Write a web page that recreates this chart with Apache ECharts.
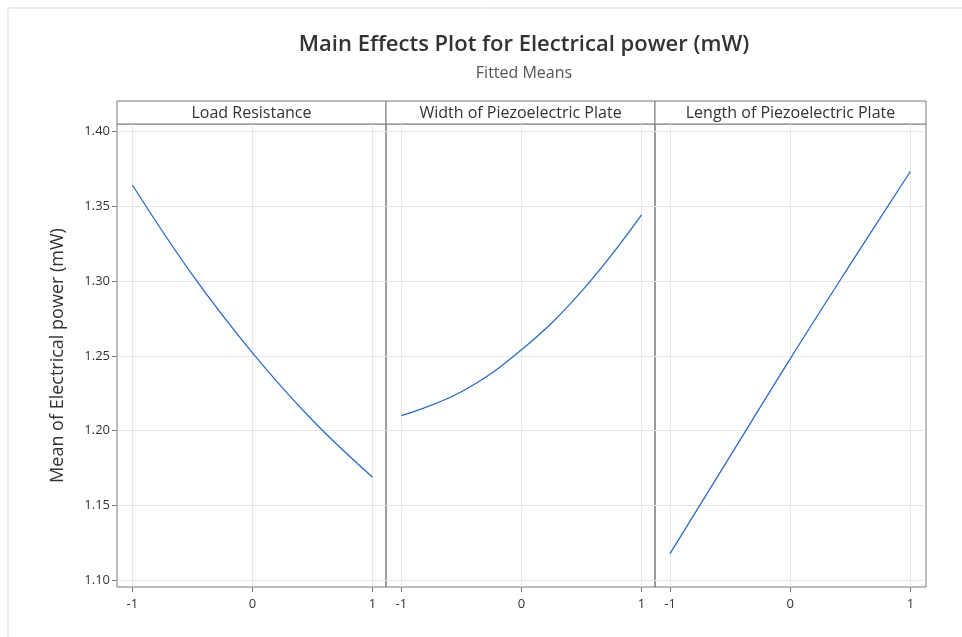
<!DOCTYPE html>
<html>
<head>
<meta charset="utf-8">
<script src="https://cdn.jsdelivr.net/npm/echarts@6/dist/echarts.min.js"></script>
<style>
  html, body { margin: 0; padding: 0; background: #fff; }
  #mainEffects { width: 962px; height: 637px; }
</style>
</head>
<body>
<div id="mainEffects"></div>
<script>
var levels = [-1, -0.5, 0, 0.5, 1];
var panelNames = ['Load Resistance', 'Width of Piezoelectric Plate', 'Length of Piezoelectric Plate'];
var loadResistance = [1.364, 1.304, 1.252, 1.207, 1.169];
var plateWidth = [1.210, 1.226, 1.254, 1.293, 1.344];
var plateLength = [1.118, 1.183, 1.248, 1.311, 1.373];
var xTicks = [-1, 0, 1];
var yTicks = [1.10, 1.15, 1.20, 1.25, 1.30, 1.35, 1.40];

var mainEffects = echarts.init(document.getElementById('mainEffects'));

var fontFamily = '"Open Sans", "Noto Sans", sans-serif';
var panelValues = [loadResistance, plateWidth, plateLength];
var panelLeft = [117, 386, 655];
var panelWidth = [269, 269, 271];
var xRange = [[-1.128, 1.112], [-1.128, 1.112], [-1.125, 1.13]];

var grids = [], xAxes = [], yAxes = [], series = [], headers = [];

panelValues.forEach(function (vals, i) {
  grids.push({
    left: panelLeft[i], top: 124, width: panelWidth[i], height: 463,
    show: true, borderColor: '#7a7a7a', borderWidth: 1, backgroundColor: 'transparent'
  });
  xAxes.push({
    type: 'value', gridIndex: i, min: xRange[i][0], max: xRange[i][1],
    axisLine: { show: false, onZero: false },
    axisTick: { show: true, length: 5, customValues: xTicks, lineStyle: { color: '#7a7a7a' } },
    axisLabel: { customValues: xTicks, color: '#333', fontSize: 13, fontFamily: fontFamily, margin: 11 },
    splitLine: { show: true, lineStyle: { color: '#e6e6e6', width: 1 } }
  });
  yAxes.push({
    type: 'value', gridIndex: i, min: 1.0957, max: 1.4047,
    axisLine: { show: false, onZero: false },
    axisTick: { show: i === 0, length: 5, customValues: yTicks, lineStyle: { color: '#7a7a7a' } },
    axisLabel: {
      show: i === 0, customValues: yTicks, color: '#333', fontSize: 13, fontFamily: fontFamily, margin: 7,
      formatter: function (v) { return v.toFixed(2); }
    },
    splitLine: { show: true, lineStyle: { color: '#e6e6e6', width: 1 } },
    name: i === 0 ? 'Mean of Electrical power (mW)' : '',
    nameLocation: 'middle', nameGap: 50, nameRotate: 90,
    nameTextStyle: { color: '#333', fontSize: 18, fontFamily: fontFamily }
  });
  series.push({
    type: 'line', xAxisIndex: i, yAxisIndex: i, smooth: 0.4, showSymbol: false,
    data: levels.map(function (x, k) { return [x, vals[k]]; }),
    lineStyle: { color: '#2a6cc4', width: 1.3 },
    silent: true
  });
  headers.push({
    type: 'rect', x: panelLeft[i], y: 101,
    shape: { width: panelWidth[i], height: 23 },
    style: { fill: '#fff', stroke: '#7a7a7a', lineWidth: 1 }
  });
  headers.push({
    type: 'text', x: panelLeft[i] + panelWidth[i] / 2, y: 113,
    style: {
      text: panelNames[i], align: 'center', verticalAlign: 'middle',
      fill: '#333', fontSize: 16, fontFamily: fontFamily
    }
  });
});

var mainEffectsOptions = {
  animation: false,
  backgroundColor: '#fff',
  title: {
    text: 'Main Effects Plot for Electrical power (mW)',
    subtext: 'Fitted Means',
    left: 519, top: 29, textAlign: 'center',
    textStyle: { color: '#333', fontSize: 22, fontWeight: 600, fontFamily: fontFamily },
    subtextStyle: { color: '#555', fontSize: 16, fontFamily: fontFamily },
    itemGap: 9
  },
  grid: grids,
  xAxis: xAxes,
  yAxis: yAxes,
  series: series,
  graphic: [{
    type: 'rect', x: 8, y: 8, shape: { width: 1000, height: 700 },
    style: { fill: 'none', stroke: '#d9d9d9', lineWidth: 1 }, silent: true
  }].concat(headers)
};

mainEffects.setOption(mainEffectsOptions);
</script>
</body>
</html>
